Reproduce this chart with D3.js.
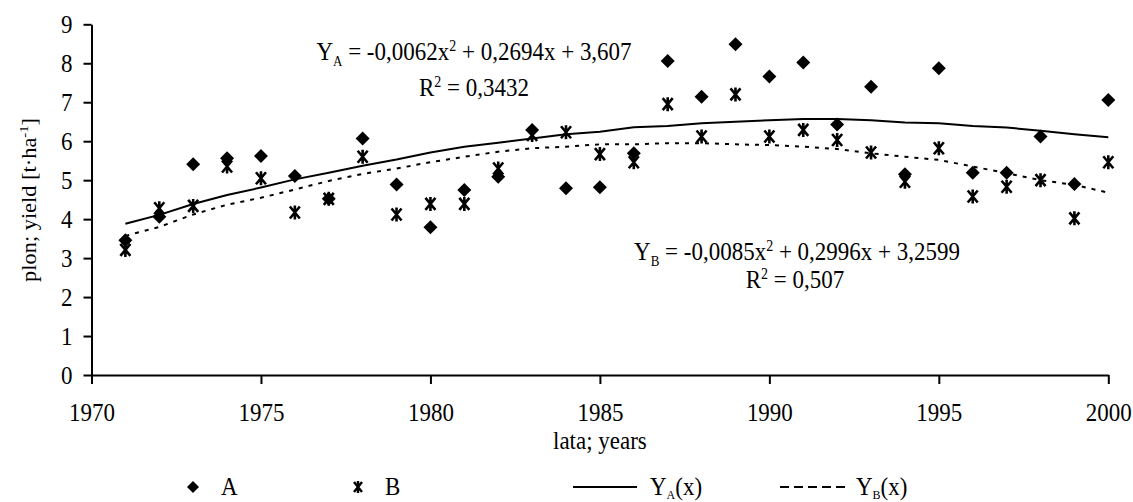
<!DOCTYPE html>
<html>
<head>
<meta charset="utf-8">
<script src="https://cdn.jsdelivr.net/npm/d3@7"></script>
<style>
  body { margin: 0; background: #fff; }
  svg text { font-family: "Liberation Serif", "Times New Roman", Tinos, "DejaVu Serif", serif !important; fill: #000; }
  .axis path, .axis line { stroke: #000; stroke-width: 2; }
</style>
</head>
<body>
<script>

// years on the x axis
var years = [1971, 1972, 1973, 1974, 1975, 1976, 1977, 1978, 1979, 1980,
             1981, 1982, 1983, 1984, 1985, 1986, 1987, 1988, 1989, 1990,
             1991, 1992, 1993, 1994, 1995, 1996, 1997, 1998, 1999, 2000];

// yield of series A (diamonds)
var seriesA = [3.46, 4.06, 5.41, 5.56, 5.62, 5.11, 4.52, 6.07, 4.89, 3.79,
               4.75, 5.09, 6.29, 4.79, 4.82, 5.69, 8.06, 7.14, 8.49, 7.66,
               8.02, 6.43, 7.40, 5.15, 7.87, 5.19, 5.19, 6.12, 4.90, 7.06];

// yield of series B (stars)
var seriesB = [3.21, 4.28, 4.34, 5.35, 5.05, 4.17, 4.52, 5.60, 4.12, 4.39,
               4.39, 5.30, 6.16, 6.23, 5.67, 5.46, 6.95, 6.12, 7.20, 6.12,
               6.29, 6.03, 5.71, 4.96, 5.82, 4.58, 4.83, 5.00, 4.02, 5.46];

// trend line Y_A(x)
var trendA = [3.88, 4.11, 4.39, 4.62, 4.81, 5.02, 5.19, 5.37, 5.53, 5.71,
              5.86, 5.96, 6.07, 6.18, 6.24, 6.36, 6.39, 6.46, 6.50, 6.54,
              6.57, 6.57, 6.54, 6.48, 6.46, 6.39, 6.35, 6.27, 6.18, 6.10];

// trend line Y_B(x)
var trendB = [3.57, 3.80, 4.12, 4.37, 4.55, 4.76, 4.98, 5.16, 5.30, 5.46,
              5.60, 5.73, 5.82, 5.86, 5.92, 5.92, 5.95, 5.95, 5.92, 5.90,
              5.86, 5.80, 5.69, 5.60, 5.52, 5.35, 5.18, 5.00, 4.88, 4.68];

var xTicks = [1970, 1975, 1980, 1985, 1990, 1995, 2000];
var yTicks = [0, 1, 2, 3, 4, 5, 6, 7, 8, 9];

var w = 1133, h = 502;
var fontSize = 23;
var tall = 1.12;   // the source picture has slightly tall glyphs
var serif = "'Liberation Serif', 'Times New Roman', Tinos, 'DejaVu Serif', serif";

var svg = d3.select("body").append("svg")
    .attr("width", w)
    .attr("height", h)
    .attr("font-family", serif);

// move x/y of a text into a transform so the glyphs can be stretched upward
function stretch(sel) {
  sel.each(function() {
    var t = d3.select(this);
    var tx = +t.attr("x") || 0, ty = +t.attr("y") || 0;
    t.attr("x", 0).attr("y", 0)
     .attr("transform", "translate(" + tx + "," + ty + ") scale(1," + tall + ")");
  });
}

// scales
var x = d3.scaleLinear().domain([1970, 2000]).range([91.5, 1108.3]);
var y = d3.scaleLinear().domain([0, 9]).range([375, 24.3]);

// x axis
var xAxis = svg.append("g")
    .attr("class", "axis")
    .attr("transform", "translate(0," + y(0) + ")")
    .call(d3.axisBottom(x).tickValues(xTicks).tickFormat(d3.format("d"))
      .tickSize(9).tickSizeOuter(0).tickPadding(8));
xAxis.attr("font-family", serif);
xAxis.selectAll("text").style("font-size", fontSize + "px").attr("dy", null).attr("y", 46);
stretch(xAxis.selectAll("text"));

// y axis
var yAxis = svg.append("g")
    .attr("class", "axis")
    .attr("transform", "translate(" + x(1970) + ",0)")
    .call(d3.axisLeft(y).tickValues(yTicks).tickSize(8).tickSizeOuter(0).tickPadding(11));
yAxis.attr("font-family", serif);
yAxis.selectAll("text").style("font-size", fontSize + "px").attr("dy", null).attr("y", 8.5);
stretch(yAxis.selectAll("text"));

// axis titles
svg.append("text")
    .attr("x", (x(1970) + x(2000)) / 2)
    .attr("y", 449)
    .attr("text-anchor", "middle")
    .style("font-size", fontSize + "px")
    .text("lata; years")
    .call(stretch);

var yTitle = svg.append("text")
    .attr("transform", "translate(36," + 200 + ") rotate(-90) scale(" + tall + ",1)")
    .attr("text-anchor", "middle")
    .style("font-size", "20px");
yTitle.append("tspan").text("plon; yield [t·ha");
yTitle.append("tspan").attr("dy", -8).style("font-size", "13px").text("-1");
yTitle.append("tspan").attr("dy", 8).text("]");

// trend lines
var line = d3.line()
    .x(function(d) { return x(d[0]); })
    .y(function(d) { return y(d[1]); });

svg.append("path")
    .datum(years.map(function(yr, i) { return [yr, trendA[i]]; }))
    .attr("d", line)
    .attr("fill", "none")
    .attr("stroke", "#000")
    .attr("stroke-width", 2);

svg.append("path")
    .datum(years.map(function(yr, i) { return [yr, trendB[i]]; }))
    .attr("d", line)
    .attr("fill", "none")
    .attr("stroke", "#000")
    .attr("stroke-width", 2)
    .attr("stroke-dasharray", "4,6");

// marker shapes
var diamond = "M0,-7L7,0L0,7L-7,0Z";
var star = "M-5,-6L5,6M5,-6L-5,6M0,-7L0,7";

// series B points
svg.selectAll(".ptB")
    .data(years.map(function(yr, i) { return [yr, seriesB[i]]; }))
    .enter().append("path")
    .attr("class", "ptB")
    .attr("transform", function(d) { return "translate(" + x(d[0]) + "," + y(d[1]) + ")"; })
    .attr("d", star)
    .attr("fill", "none")
    .attr("stroke", "#000")
    .attr("stroke-width", 2.6);

// series A points
svg.selectAll(".ptA")
    .data(years.map(function(yr, i) { return [yr, seriesA[i]]; }))
    .enter().append("path")
    .attr("class", "ptA")
    .attr("transform", function(d) { return "translate(" + x(d[0]) + "," + y(d[1]) + ")"; })
    .attr("d", diamond)
    .attr("fill", "#000");

// equation labels: subscript letter, x squared
function equation(cx, by, sub, parts) {
  var t = svg.append("text")
      .attr("x", cx)
      .attr("y", by)
      .attr("text-anchor", "middle")
      .style("font-size", fontSize + "px");
  t.append("tspan").text("Y");
  t.append("tspan").attr("dy", 5).style("font-size", "13px").text(sub);
  t.append("tspan").attr("dy", -5).text(" = " + parts[0] + "x");
  t.append("tspan").attr("dy", -8).style("font-size", "14px").text("2");
  t.append("tspan").attr("dy", 8).text(" + " + parts[1] + "x + " + parts[2]);
  stretch(t);
}

function rSquared(cx, by, value) {
  var t = svg.append("text")
      .attr("x", cx)
      .attr("y", by)
      .attr("text-anchor", "middle")
      .style("font-size", fontSize + "px");
  t.append("tspan").text("R");
  t.append("tspan").attr("dy", -8).style("font-size", "14px").text("2");
  t.append("tspan").attr("dy", 8).text(" = " + value);
  stretch(t);
}

equation(474, 60, "A", ["-0,0062", "0,2694", "3,607"]);
rSquared(474, 96, "0,3432");
equation(797, 260, "B", ["-0,0085", "0,2996", "3,2599"]);
rSquared(795, 288, "0,507");

// legend
var legendY = 487;
svg.append("path").attr("transform", "translate(193," + legendY + ")")
    .attr("d", "M0,-6L6,0L0,6L-6,0Z").attr("fill", "#000");
svg.append("text").attr("x", 221).attr("y", legendY + 8)
    .style("font-size", fontSize + "px").text("A").call(stretch);

svg.append("path").attr("transform", "translate(358," + legendY + ")")
    .attr("d", "M-4,-5L4,5M4,-5L-4,5M0,-6L0,6").attr("fill", "none")
    .attr("stroke", "#000").attr("stroke-width", 2.4);
svg.append("text").attr("x", 385).attr("y", legendY + 8)
    .style("font-size", fontSize + "px").text("B").call(stretch);

svg.append("line").attr("x1", 573).attr("x2", 637).attr("y1", legendY).attr("y2", legendY)
    .attr("stroke", "#000").attr("stroke-width", 2);
var legA = svg.append("text").attr("x", 650).attr("y", legendY + 8)
    .style("font-size", fontSize + "px");
legA.append("tspan").text("Y");
legA.append("tspan").attr("dy", 4).style("font-size", "12px").text("A");
legA.append("tspan").attr("dy", -4).text("(x)");
stretch(legA);

svg.append("line").attr("x1", 780).attr("x2", 845).attr("y1", legendY).attr("y2", legendY)
    .attr("stroke", "#000").attr("stroke-width", 2).attr("stroke-dasharray", "9,5");
var legB = svg.append("text").attr("x", 856).attr("y", legendY + 8)
    .style("font-size", fontSize + "px");
legB.append("tspan").text("Y");
legB.append("tspan").attr("dy", 4).style("font-size", "12px").text("B");
legB.append("tspan").attr("dy", -4).text("(x)");
stretch(legB);

</script>
</body>
</html>
